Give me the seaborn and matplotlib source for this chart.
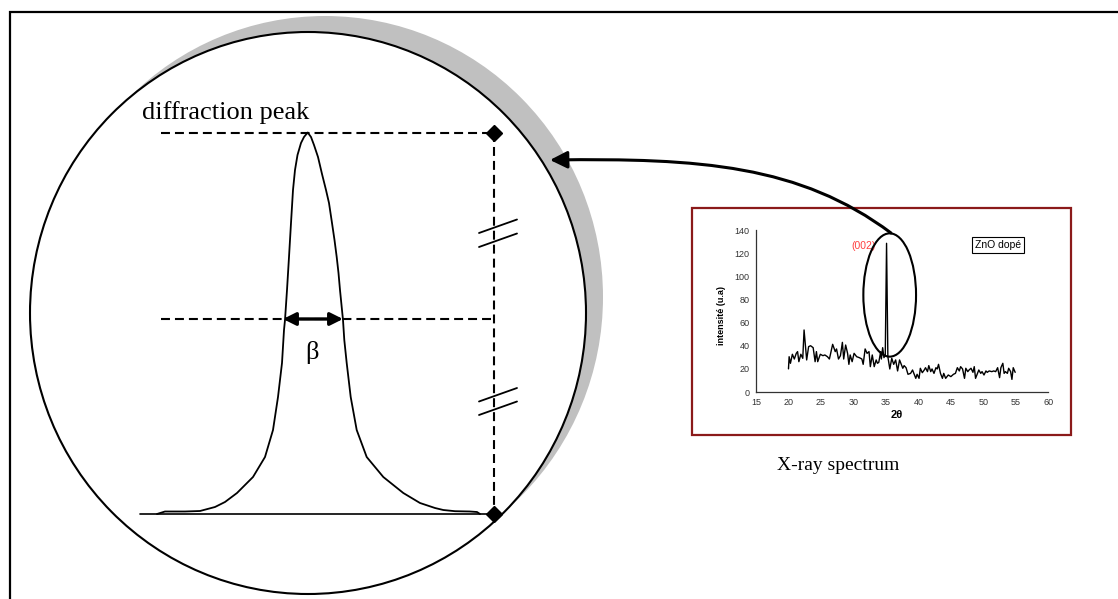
import numpy as np
import pandas as pd
import matplotlib
matplotlib.use("Agg")
import matplotlib.pyplot as plt
from matplotlib.patches import Ellipse, FancyArrowPatch, Rectangle
from matplotlib.path import Path
from matplotlib.ticker import MultipleLocator
import seaborn as sns

# ---- X-ray spectrum of doped ZnO (2theta in degrees, intensity in a.u.) ----
two_theta = [20.0, 20.1, 20.3, 20.6, 20.9, 21.2, 21.4, 21.6, 21.9, 22.2, 22.4, 22.8,
             23.1, 23.4, 23.8, 24.1, 24.3, 24.5, 24.9, 25.3, 25.6, 26.0, 26.3, 26.8,
             27.2, 27.4, 27.7, 28.0, 28.3, 28.5, 28.8, 29.1, 29.3, 29.5, 29.8, 30.1,
             30.5, 30.9, 31.3, 31.5, 31.8, 32.1, 32.4, 32.6, 32.9, 33.2, 33.5, 33.7,
             33.9, 34.2, 34.3, 34.5, 34.7, 34.9, 35.1, 35.3, 35.6, 35.9, 36.2, 36.5,
             36.8, 37.1, 37.3, 37.6, 37.8, 38.1, 38.4, 38.8, 39.1, 39.3, 39.6, 39.8,
             40.1, 40.3, 40.6, 40.9, 41.1, 41.4, 41.6, 41.9, 42.1, 42.4, 42.7, 42.9,
             43.1, 43.4, 43.7, 43.9, 44.2, 44.6, 45.0, 45.4, 45.7, 46.0, 46.3, 46.5,
             46.8, 47.1, 47.3, 47.6, 47.8, 48.1, 48.4, 48.6, 48.8, 49.1, 49.3, 49.6,
             49.8, 50.1, 50.4, 50.6, 50.9, 51.3, 51.6, 51.9, 52.2, 52.5, 52.7, 53.0,
             53.2, 53.4, 53.7, 53.9, 54.2, 54.4, 54.6, 54.9]
intensity = [20.0, 30.5, 24.8, 32.6, 28.5, 33.4, 34.9, 26.2, 32.6, 29.1, 53.6, 27.7,
             39.2, 40.0, 38.3, 26.2, 34.9, 26.2, 32.6, 31.4, 32.0, 30.5, 28.5, 41.2,
             34.9, 37.2, 28.5, 31.4, 42.9, 28.5, 40.6, 33.4, 23.9, 32.0, 26.2, 33.4,
             30.5, 29.7, 28.5, 23.9, 37.2, 33.4, 34.9, 21.9, 32.0, 21.9, 27.7, 24.8,
             25.6, 34.9, 28.5, 38.3, 29.7, 32.0, 128.5, 30.5, 19.9, 29.1, 23.9, 27.7,
             18.2, 27.7, 24.8, 20.5, 22.8, 21.0, 15.3, 16.1, 19.0, 16.1, 11.8, 15.3,
             11.8, 20.5, 16.7, 19.0, 21.0, 17.6, 22.8, 17.6, 19.9, 16.1, 21.0, 19.9,
             23.9, 16.1, 11.8, 16.1, 11.8, 14.7, 13.3, 15.3, 16.1, 21.0, 18.2, 21.9,
             19.9, 11.8, 20.5, 17.6, 19.0, 20.5, 17.0, 21.9, 11.8, 16.1, 19.0, 16.1,
             17.6, 14.7, 18.2, 17.0, 18.2, 17.6, 18.2, 17.6, 21.0, 12.4, 21.0, 24.8,
             16.1, 17.6, 16.1, 20.5, 17.6, 10.9, 21.0, 17.0]
x_ticks = [15, 20, 25, 30, 35, 40, 45, 50, 55, 60]
y_ticks = [0, 20, 40, 60, 80, 100, 120, 140]
sample_label = "ZnO dopé"
reflection_label = "(002)"

# ---- sketched diffraction peak profile (canvas pixel units, y downwards) ----
peak_x = [157, 165, 185, 200, 215, 225, 237, 253, 265, 273, 278, 282, 284, 285,
          287, 289, 291, 293, 295, 297.5, 301, 304, 307.7, 311, 314, 318, 322, 326,
          329, 332, 334.5, 336.7, 338.5, 340, 341.5, 343, 344.3, 346.7, 350.7, 356.7,
          366.7, 383.3, 403.3, 420, 435, 443.3, 455, 470, 477, 480]
peak_y = [514, 511.5, 511.5, 511, 507, 502, 493, 477, 457, 430, 397, 363, 330, 320,
          290, 257, 223, 190, 170, 155, 143, 137, 132.5, 137, 145, 157, 174, 190,
          203, 223, 240, 257, 273, 290, 305, 320, 340, 363, 397, 430,
          457, 477, 493, 503, 508, 510, 511.2, 511.5, 512, 514]

sns.set_style("white")
plt.rcParams["font.family"] = ["Liberation Serif", "DejaVu Serif"]
plt.rcParams["text.color"] = "black"

W, H = 1118, 599
fig = plt.figure(figsize=(W / 100, H / 100), dpi=100)

# canvas axes in pixel units
ax = fig.add_axes([0, 0, 1, 1])

# outer frame
ax.plot([10, 10, W], [H, 12, 12], color="black", lw=1.6, solid_joinstyle="miter")

# magnifier: grey shadow, then white lens
cx, cy, rw, rh = 308, 313, 556, 562
ax.add_patch(Ellipse((cx + 17, cy - 16), rw, rh, facecolor="#c0c0c0", edgecolor="none", zorder=1))
ax.add_patch(Ellipse((cx, cy), rw, rh, facecolor="white", edgecolor="black", lw=1.5, zorder=2))

# baseline and peak profile
ax.plot([140, 494], [514, 514], color="black", lw=1.2, zorder=3)
profile = pd.DataFrame({"x": peak_x, "y": peak_y})
sns.lineplot(data=profile, x="x", y="y", sort=False, estimator=None, color="black",
             lw=1.3, ax=ax, zorder=4)
ax.set_xlim(0, W)
ax.set_ylim(H, 0)
ax.axis("off")

# construction lines
dash = dict(color="black", lw=1.5, dashes=(4.3, 2.4), zorder=3)
ax.plot([161, 494], [133, 133], **dash)
ax.plot([161, 494], [319, 319], **dash)
ax.plot([494, 494], [133, 514], **dash)
ax.plot([494, 494], [133, 514], ls="none", marker="D", ms=8, color="black", zorder=5)

# axis-break marks
for yb in (233, 247, 401.5, 415):
    ax.plot([479, 517], [yb, yb - 13.5], color="black", lw=1.3, zorder=5)

# FWHM arrow
ax.annotate("", xy=(283, 319), xytext=(343, 319),
            arrowprops=dict(arrowstyle="<|-|>", lw=2.4, color="black",
                            mutation_scale=19, shrinkA=0, shrinkB=0), zorder=6)
ax.text(312, 352, "β", fontsize=19, ha="center", va="center", zorder=6)
ax.text(142, 119, "diffraction peak", fontsize=19, ha="left", va="baseline", zorder=6)
ax.text(838, 465, "X-ray spectrum", fontsize=14, ha="center", va="center")

# spectrum frame
ax.add_patch(Rectangle((692, 208), 379, 227, facecolor="white", edgecolor="#8b1a1a", lw=1.6, zorder=2))

# ---- inset spectrum ----
x0, x1, y0, y1 = 756, 1048.3, 392, 230
ins = fig.add_axes([x0 / W, 1 - y0 / H, (x1 - x0) / W, (y0 - y1) / H], zorder=3)
ins.patch.set_alpha(0)
spec = pd.DataFrame({"two_theta": two_theta, "intensity": intensity})
sns.lineplot(data=spec, x="two_theta", y="intensity", color="black", lw=1.0, ax=ins)
ins.set_xlim(x_ticks[0], x_ticks[-1])
ins.set_ylim(y_ticks[0], y_ticks[-1])
ins.set_xticks(x_ticks)
ins.set_yticks(y_ticks)
ins.xaxis.set_minor_locator(MultipleLocator(2.5))
ins.yaxis.set_minor_locator(MultipleLocator(10))
ins.tick_params(which="both", direction="out", color="#333333", width=0.8,
                labelsize=6.5, labelcolor="#333333", pad=1.5)
ins.tick_params(which="major", length=3)
ins.tick_params(which="minor", length=1.8)
for lab in ins.get_xticklabels() + ins.get_yticklabels():
    lab.set_family(["Liberation Sans", "DejaVu Sans"])
for side in ("top", "right"):
    ins.spines[side].set_visible(False)
for side in ("left", "bottom"):
    ins.spines[side].set_color("#333333")
    ins.spines[side].set_linewidth(0.9)
ins.set_xlabel("")
ins.set_ylabel("")
ins.text(-0.118, 0.47, "intensité (u.a)", transform=ins.transAxes, rotation=90,
         ha="center", va="center", fontsize=6.5, fontweight="bold",
         family=["Liberation Sans Narrow", "Liberation Sans", "DejaVu Sans"])
ins.text(0.482, -0.142, "2θ", transform=ins.transAxes, ha="center", va="center",
         fontsize=8, fontweight="bold", family=["Liberation Sans", "DejaVu Sans"])
ins.text(31.6, 126.4, reflection_label, color="#ff4040", fontsize=7.5,
         ha="center", va="center", family=["Liberation Sans", "DejaVu Sans"])
ins.text(52.3, 127, sample_label, fontsize=7.5, ha="center", va="center",
         family=["Liberation Sans", "DejaVu Sans"],
         bbox=dict(boxstyle="square,pad=0.3", facecolor="white", edgecolor="black", lw=0.8))

# ---- overlay: loupe ellipse around the (002) reflection and pointer arrow ----
top = fig.add_axes([0, 0, 1, 1], zorder=6)
top.set_xlim(0, W)
top.set_ylim(H, 0)
top.axis("off")
top.patch.set_alpha(0)
top.add_patch(Ellipse((889.7, 295), 52.7, 123.3, facecolor="none", edgecolor="black", lw=1.5))
pointer = Path([(891, 233), (800, 165), (700, 158), (550, 160)],
               [Path.MOVETO, Path.CURVE4, Path.CURVE4, Path.CURVE4])
top.add_patch(FancyArrowPatch(path=pointer, arrowstyle="-|>", mutation_scale=26,
                              lw=2.2, color="black", transform=top.transData))

fig.savefig("out.png", dpi=100)
